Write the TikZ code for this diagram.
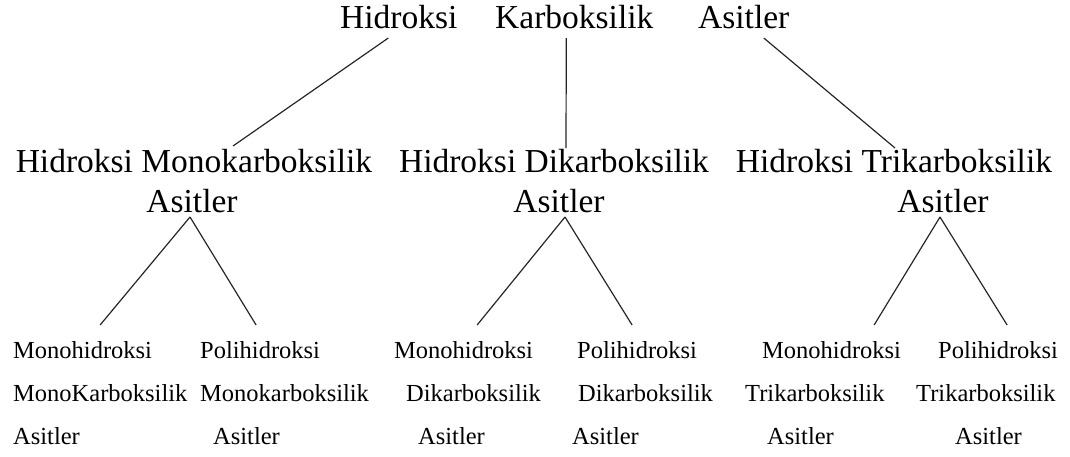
\documentclass[tikz,border=0pt]{standalone}
\usepackage{fontspec}
\setmainfont{Liberation Serif}
\usetikzlibrary{calc}
\tikzset{
  big/.style={inner sep=0pt, anchor=base west, font=\fontsize{33.5pt}{40pt}\selectfont},
  bigc/.style={inner sep=0pt, anchor=base, font=\fontsize{33.5pt}{40pt}\selectfont},
  small/.style={inner sep=0pt, anchor=base west, font=\fontsize{24.5pt}{29pt}\selectfont},
  link/.style={line width=1.2pt, draw=black!85}
}
\begin{document}
\begin{tikzpicture}[x=1pt,y=-1pt]
\useasboundingbox (0,0) rectangle (1070,456);
% top
\node[big] (tH) at (340,28) {Hidroksi};
\node[big] (tK) at (495,28) {Karboksilik};
\node[big] (tA) at (698,28) {Asitler};
% middle
\node[bigc] (m1) at (194,172) {Hidroksi Monokarboksilik};
\node[bigc] (m1a) at (192,212) {Asitler};
\node[bigc] (m2) at (554,172) {Hidroksi Dikarboksilik};
\node[bigc] (m2a) at (559,212) {Asitler};
\node[bigc] (m3) at (894,172) {Hidroksi Trikarboksilik};
\node[bigc] (m3a) at (943,212) {Asitler};
% leaves
\node[small] (l1a) at (13,358) {Monohidroksi};
\node[small] (l1b) at (13,401) {MonoKarboksilik};
\node[small] (l1c) at (13,444) {Asitler};
\node[small] (l2a) at (200,358) {Polihidroksi};
\node[small] (l2b) at (200,401) {Monokarboksilik};
\node[small] (l2c) at (213,444) {Asitler};
\node[small] (l3a) at (394,358) {Monohidroksi};
\node[small] (l3b) at (406,401) {Dikarboksilik};
\node[small] (l3c) at (418,444) {Asitler};
\node[small] (l4a) at (577,358) {Polihidroksi};
\node[small] (l4b) at (578,401) {Dikarboksilik};
\node[small] (l4c) at (572,444) {Asitler};
\node[small] (l5a) at (762,358) {Monohidroksi};
\node[small] (l5b) at (745,401) {Trikarboksilik};
\node[small] (l5c) at (767,444) {Asitler};
\node[small] (l6a) at (938,358) {Polihidroksi};
\node[small] (l6b) at (916,401) {Trikarboksilik};
\node[small] (l6c) at (955,444) {Asitler};
% connectors top -> middle
\draw[link] ($(tH.base)+(-10.5,10)$) -- ($(m1.base)+(39,-26)$);
\draw[link] ($(tK.base)+(-8,10)$) -- ($(m2.base)+(12,-24)$);
\draw[link] ($(tA.base)+(20,10)$) -- ($(m3.base)+(1,-24)$);
% connectors middle -> leaves
\draw[link] ($(m1a.base)+(-2,5)$) -- ($(l1a.base)+(17.5,-33)$);
\draw[link] ($(m1a.base)+(-2,5)$) -- ($(l2a.base)+(-4,-33)$);
\draw[link] ($(m2a.base)+(6,5)$) -- ($(l3a.base)+(13.5,-33)$);
\draw[link] ($(m2a.base)+(6,5)$) -- ($(l4a.base)+(-5,-33)$);
\draw[link] ($(m3a.base)+(-3,5)$) -- ($(l5a.base)+(42.5,-33)$);
\draw[link] ($(m3a.base)+(-3,5)$) -- ($(l6a.base)+(9,-33)$);
\end{tikzpicture}
\end{document}
